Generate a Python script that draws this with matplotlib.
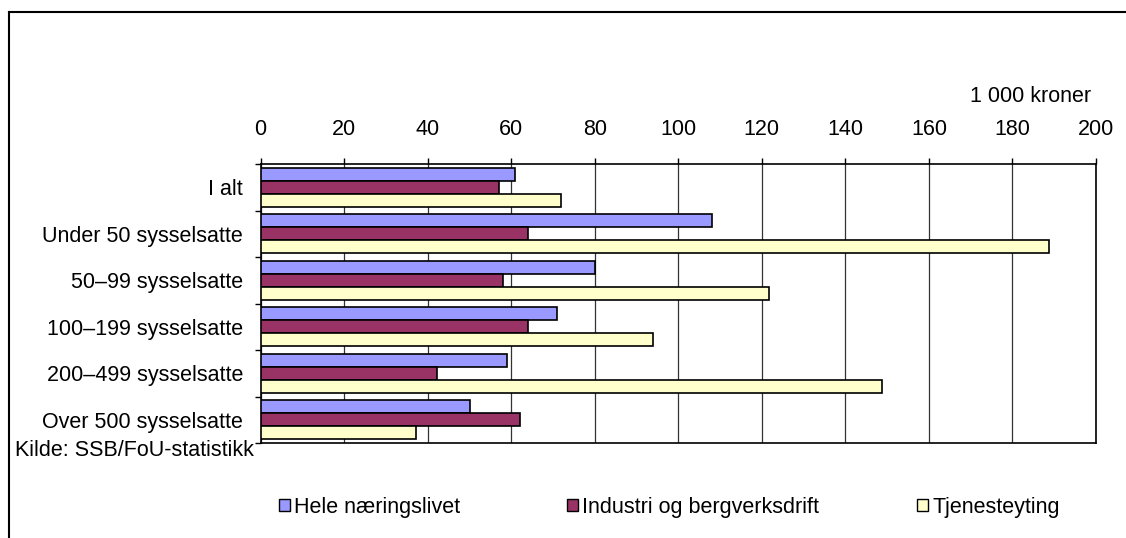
import numpy as np
import matplotlib.pyplot as plt
from matplotlib.lines import Line2D
from matplotlib.patches import Patch

plt.rcParams['font.family'] = ['Liberation Sans', 'DejaVu Sans']

categories = ['I alt', 'Under 50 sysselsatte', '50–99 sysselsatte',
              '100–199 sysselsatte', '200–499 sysselsatte', 'Over 500 sysselsatte']
hele = [61.0, 108.1, 80.0, 71.0, 59.0, 50.2]
industri = [57.1, 64.1, 58.0, 64.0, 42.2, 62.1]
tjeneste = [72.0, 188.8, 121.8, 93.9, 148.8, 37.3]
series_names = ['Hele næringslivet', 'Industri og bergverksdrift', 'Tjenesteyting']
colors = ['#9999FF', '#993366', '#FFFFCC']
xticks = [0, 20, 40, 60, 80, 100, 120, 140, 160, 180, 200]

FS = 15.5
W, H = 1126, 538
fig = plt.figure(figsize=(W / 100, H / 100), dpi=100)
ax = fig.add_axes([260.5 / W, 1 - 443 / H, (1096 - 260.5) / W, (443 - 164) / H])

y = np.arange(len(categories))
bh = 0.276
for k, vals in enumerate([hele, industri, tjeneste]):
    ax.barh(y + (k - 1) * bh, vals, height=bh, color=colors[k],
            edgecolor='black', linewidth=1.2, zorder=3)

ax.set_xlim(0, 200)
ax.set_ylim(len(categories) - 0.5, -0.5)
ax.set_xticks(xticks)
ax.xaxis.tick_top()
ax.tick_params(axis='x', which='major', length=4.3, width=1, pad=13, labelsize=FS)
ax.grid(axis='x', color='#333333', linewidth=0.9, zorder=0)

# category boundaries as major ticks, names as minor tick labels
ax.set_yticks(np.arange(len(categories) + 1) - 0.5)
ax.set_yticklabels([])
ax.set_yticks(y, minor=True)
ax.set_yticklabels(categories, minor=True)
ax.tick_params(axis='y', which='major', length=4.3, width=1)
ax.tick_params(axis='y', which='minor', length=0, pad=12.6, labelsize=FS)
for s in ax.spines.values():
    s.set_linewidth(1.2)

fig.text(1091 / W, 1 - 97 / H, '1 000 kroner', ha='right', va='center', fontsize=FS)
fig.text(254 / W, 1 - 450 / H, 'Kilde: SSB/FoU-statistikk', ha='right', va='center', fontsize=FS)

# legend entries
leg_x = [279, 567, 917]
for k in range(3):
    h = Patch(facecolor=colors[k], edgecolor='black', linewidth=1)
    fig.legend([h], [series_names[k]], loc='center left',
               bbox_to_anchor=(leg_x[k] / W, 1 - 507 / H), frameon=False,
               borderpad=0, borderaxespad=0, handlelength=0.5, handleheight=0.5,
               handletextpad=0.2, fontsize=FS)

# outer frame (top and left only)
fig.add_artist(Line2D([8.5 / W, 1], [1 - 12 / H, 1 - 12 / H], color='black', linewidth=1.5))
fig.add_artist(Line2D([8.5 / W, 8.5 / W], [0, 1 - 12 / H], color='black', linewidth=1.5))

fig.savefig('out.png', dpi=100)
